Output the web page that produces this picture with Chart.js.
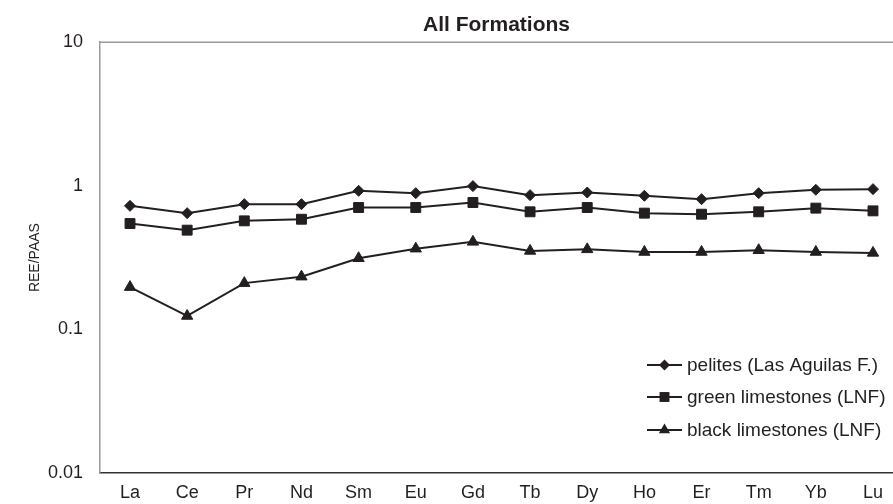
<!DOCTYPE html>
<html>
<head>
<meta charset="utf-8">
<script src="https://cdn.jsdelivr.net/npm/chart.js@4/dist/chart.umd.min.js"></script>
<style>
  html, body { margin: 0; padding: 0; background: #ffffff; }
  #wrap { width: 893px; height: 504px; position: relative; }
</style>
</head>
<body>
<div id="wrap"><canvas id="c" width="893" height="504"></canvas></div>
<script>
const categories = ['La','Ce','Pr','Nd','Sm','Eu','Gd','Tb','Dy','Ho','Er','Tm','Yb','Lu'];
const pelites = [0.725,0.645,0.745,0.745,0.923,0.889,0.995,0.861,0.898,0.852,0.807,0.889,0.938,0.948];
const greenLimestones = [0.546,0.491,0.570,0.585,0.706,0.706,0.765,0.659,0.706,0.645,0.634,0.659,0.699,0.669];
const blackLimestones = [0.197,0.124,0.210,0.233,0.313,0.365,0.407,0.352,0.361,0.346,0.346,0.356,0.346,0.341];
const seriesNames = ['pelites (Las Aguilas F.)','green limestones (LNF)','black limestones (LNF)'];
const yTickValues = [0.01, 0.1, 1, 10];
const yTickLabels = ['0.01', '0.1', '1', '10'];
const chartTitle = 'All Formations';
const yAxisTitle = 'REE/PAAS';

const INK = '#231f20';
const FONT = "'Liberation Sans', Arial, sans-serif";

function toPoints(arr) { return arr.map((v, i) => ({ x: i, y: v })); }

function ds(label, data, style, radius) {
  return {
    label: label,
    data: toPoints(data),
    borderColor: INK,
    backgroundColor: INK,
    borderWidth: 2,
    pointStyle: style,
    pointRadius: radius,
    pointHoverRadius: radius,
    pointBackgroundColor: INK,
    pointBorderColor: INK,
    pointBorderWidth: 1,
    tension: 0,
    fill: false,
    clip: false
  };
}

function drawMarker(ctx, style, x, y, r) {
  ctx.beginPath();
  if (style === 'rectRot') {
    ctx.moveTo(x, y - r); ctx.lineTo(x + r, y); ctx.lineTo(x, y + r); ctx.lineTo(x - r, y);
  } else if (style === 'rect') {
    const s = r * Math.SQRT1_2;
    ctx.rect(x - s, y - s, 2 * s, 2 * s);
  } else {
    ctx.moveTo(x, y - r);
    ctx.lineTo(x + r * Math.sin(2 * Math.PI / 3), y - r * Math.cos(2 * Math.PI / 3));
    ctx.lineTo(x + r * Math.sin(4 * Math.PI / 3), y - r * Math.cos(4 * Math.PI / 3));
  }
  ctx.closePath();
  ctx.fill();
}

const framePlugin = {
  id: 'frame',
  afterDraw(chart) {
    const ctx = chart.ctx;
    const a = chart.chartArea;
    ctx.save();
    ctx.strokeStyle = '#9a9a9a';
    ctx.lineWidth = 1.5;
    ctx.beginPath();
    ctx.moveTo(a.left, a.top);
    ctx.lineTo(a.right, a.top);
    ctx.stroke();
    const rows = [365, 397, 430];
    const x0 = 647, x1 = 682;
    ctx.font = '19px ' + FONT;
    ctx.textBaseline = 'middle';
    ctx.textAlign = 'left';
    chart.data.datasets.forEach((d, i) => {
      const y = rows[i];
      ctx.strokeStyle = INK;
      ctx.lineWidth = 2;
      ctx.beginPath();
      ctx.moveTo(x0, y); ctx.lineTo(x1, y); ctx.stroke();
      ctx.fillStyle = INK;
      drawMarker(ctx, d.pointStyle, (x0 + x1) / 2, y, d.pointRadius);
      ctx.fillText(d.label, 687, y + 1);
    });
    ctx.restore();
  }
};

new Chart(document.getElementById('c'), {
  type: 'line',
  data: {
    datasets: [
      ds(seriesNames[0], pelites, 'rectRot', 5.5),
      ds(seriesNames[1], greenLimestones, 'rect', 7),
      ds(seriesNames[2], blackLimestones, 'triangle', 6.5)
    ]
  },
  options: {
    responsive: false,
    animation: false,
    devicePixelRatio: 1,
    layout: { autoPadding: false, padding: 0 },
    plugins: {
      legend: { display: false },
      tooltip: { enabled: false },
      title: {
        display: true,
        text: chartTitle,
        fullSize: false,
        color: INK,
        font: { family: FONT, size: 21, weight: 'bold', lineHeight: 1.2 },
        padding: { top: 13, bottom: 4 }
      }
    },
    scales: {
      x: {
        type: 'linear',
        min: -0.525,
        max: 13.35,
        afterBuildTicks(scale) { scale.ticks = categories.map((_, i) => ({ value: i })); },
        afterFit(scale) { scale.height = 31; scale.paddingLeft = 0; scale.paddingRight = 0; },
        grid: { display: false, drawTicks: false },
        border: { display: true, color: '#333333', width: 1.5 },
        ticks: {
          autoSkip: false,
          maxRotation: 0,
          padding: 9,
          color: INK,
          font: { family: FONT, size: 18 },
          callback: (v) => categories[v]
        }
      },
      y: {
        type: 'logarithmic',
        min: 0.01,
        max: 10,
        afterBuildTicks(scale) { scale.ticks = yTickValues.map(v => ({ value: v })); },
        afterFit(scale) { scale.width = 100; scale.paddingTop = 0; scale.paddingBottom = 0; },
        grid: { display: false, drawTicks: false },
        border: { display: true, color: '#9a9a9a', width: 1.5 },
        title: {
          display: true,
          text: yAxisTitle,
          color: INK,
          font: { family: FONT, size: 14 },
          padding: { top: 27, bottom: 0 }
        },
        ticks: {
          padding: 17,
          color: INK,
          font: { family: FONT, size: 18 },
          callback: (v) => { const k = yTickValues.indexOf(v); return k >= 0 ? yTickLabels[k] : ''; }
        }
      }
    }
  },
  plugins: [framePlugin]
});
</script>
</body>
</html>
